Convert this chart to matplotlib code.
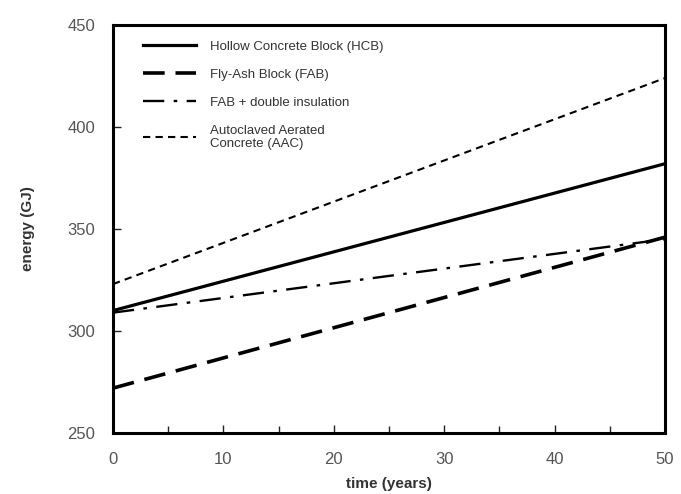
import matplotlib
matplotlib.use("Agg")
import matplotlib.pyplot as plt
import numpy as np

plt.rcParams['font.family'] = ['Liberation Sans', 'DejaVu Sans']

# time span (years) and energy at start / end of each scenario (GJ)
years = [0, 50]
hcb = [310, 382]
fab = [272, 346]
fab_insul = [309, 345]
aac = [323, 424]

labels = [
    "Hollow Concrete Block (HCB)",
    "Fly-Ash Block (FAB)",
    "FAB + double insulation",
    "Autoclaved Aerated\nConcrete (AAC)",
]

fig = plt.figure(figsize=(6.81, 4.94), dpi=100)
ax = fig.add_axes([113 / 681, 1 - 433 / 494, 552 / 681, 408 / 494])

ax.plot(years, hcb, color="black", lw=2.3, ls="-", label=labels[0])
ax.plot(years, fab, color="black", lw=2.6, ls=(0, (6, 3)), label=labels[1])
ax.plot(years, fab_insul, color="black", lw=1.7, ls=(0, (9, 4, 1.5, 4)), label=labels[2])
ax.plot(years, aac, color="black", lw=1.5, ls=(0, (3.5, 2.5)), label=labels[3])

ax.set_xlim(0, 50)
ax.set_ylim(250, 450)
ax.set_xticks(np.arange(0, 51, 10))
ax.set_xticks(np.arange(0, 51, 5), minor=True)
ax.set_yticks(np.arange(250, 451, 50))

for s in ax.spines.values():
    s.set_linewidth(2.2)
ax.tick_params(axis="both", which="both", direction="in", width=1.0, colors="#222222",
               labelcolor="#555555", labelsize=12)
ax.tick_params(axis="x", which="major", length=6, pad=14)
ax.tick_params(axis="y", which="major", length=6, pad=13)
ax.tick_params(axis="x", which="minor", length=5)

ax.set_xlabel("time (years)", fontsize=11, fontweight="bold", color="#333333", labelpad=7)
ax.set_ylabel("energy (GJ)", fontsize=11, fontweight="bold", color="#333333", labelpad=23)

leg = ax.legend(loc="upper left", frameon=False, fontsize=9.5, handlelength=4.0,
                handletextpad=1.1, labelspacing=1.2, borderaxespad=0.4,
                bbox_to_anchor=(0.035, 0.988))
for t in leg.get_texts():
    t.set_color("#333333")

fig.savefig("out.png", dpi=100)
